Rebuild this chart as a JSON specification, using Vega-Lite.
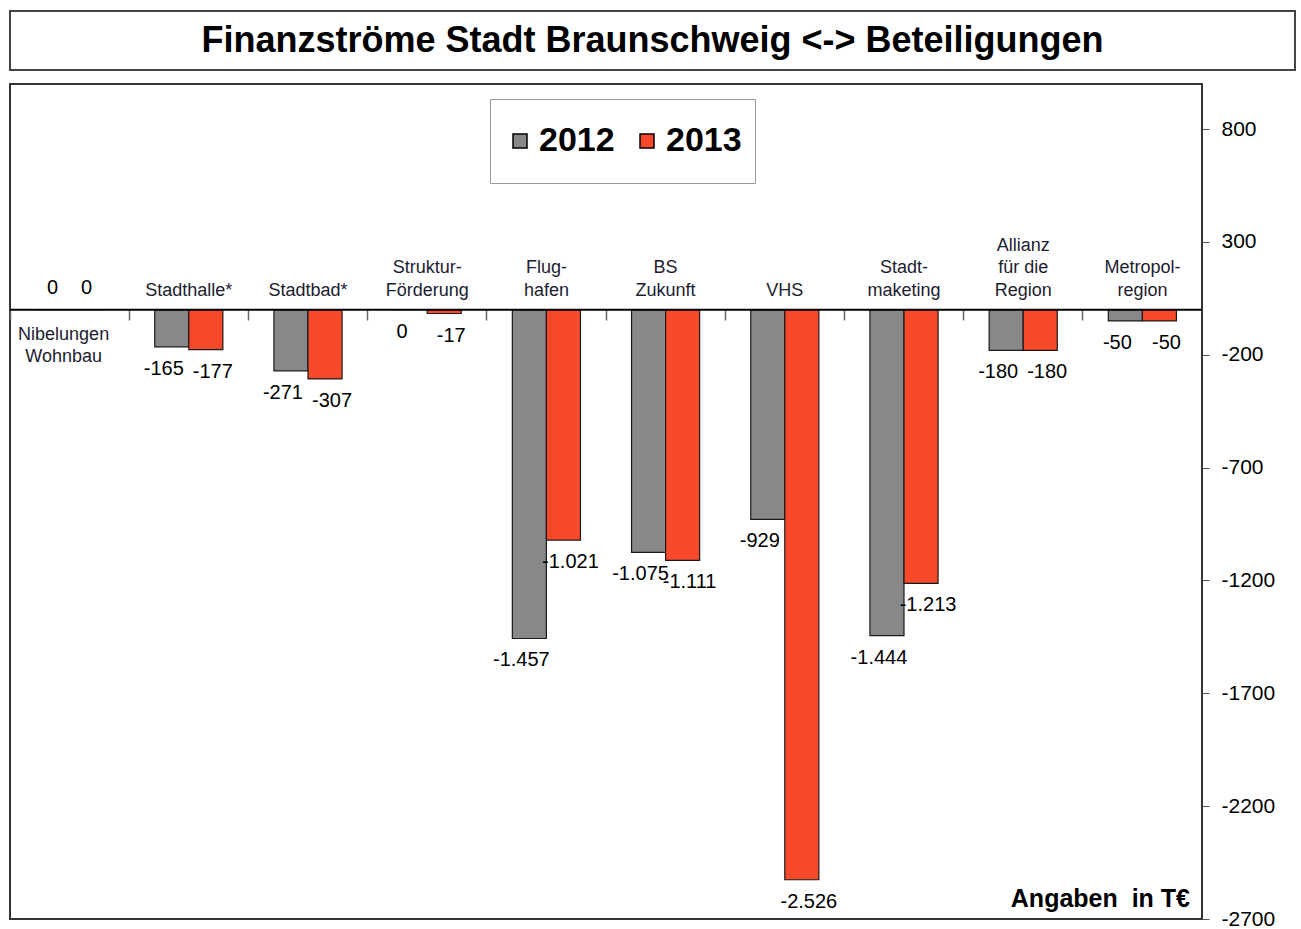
{
  "$schema": "https://vega.github.io/schema/vega-lite/v6.json",
  "padding": {"left": 8, "top": 10, "right": 0, "bottom": 0},
  "spacing": 12,
  "config": {
    "font": "Liberation Sans",
    "view": {"stroke": "#333333", "strokeWidth": 2},
    "locale": {"number": {"decimal": ",", "thousands": ".", "grouping": [3], "currency": ["", "€"], "minus": "-"}}
  },
  "datasets": {
    "bars": [
      {"category": "Nibelungen Wohnbau", "year": "2012", "value": 0},
      {"category": "Nibelungen Wohnbau", "year": "2013", "value": 0},
      {"category": "Stadthalle", "year": "2012", "value": -165},
      {"category": "Stadthalle", "year": "2013", "value": -177},
      {"category": "Stadtbad", "year": "2012", "value": -271},
      {"category": "Stadtbad", "year": "2013", "value": -307},
      {"category": "Struktur-Förderung", "year": "2012", "value": 0},
      {"category": "Struktur-Förderung", "year": "2013", "value": -17},
      {"category": "Flughafen", "year": "2012", "value": -1457},
      {"category": "Flughafen", "year": "2013", "value": -1021},
      {"category": "BS Zukunft", "year": "2012", "value": -1075},
      {"category": "BS Zukunft", "year": "2013", "value": -1111},
      {"category": "VHS", "year": "2012", "value": -929},
      {"category": "VHS", "year": "2013", "value": -2526},
      {"category": "Stadtmaketing", "year": "2012", "value": -1444},
      {"category": "Stadtmaketing", "year": "2013", "value": -1213},
      {"category": "Allianz für die Region", "year": "2012", "value": -180},
      {"category": "Allianz für die Region", "year": "2013", "value": -180},
      {"category": "Metropolregion", "year": "2012", "value": -50},
      {"category": "Metropolregion", "year": "2013", "value": -50}
    ],
    "cats": [
      {"category": "Nibelungen Wohnbau", "label": "Nibelungen|Wohnbau", "lines": 2},
      {"category": "Stadthalle", "label": "Stadthalle*", "lines": 1},
      {"category": "Stadtbad", "label": "Stadtbad*", "lines": 1},
      {"category": "Struktur-Förderung", "label": "Struktur-|Förderung", "lines": 2},
      {"category": "Flughafen", "label": "Flug-|hafen", "lines": 2},
      {"category": "BS Zukunft", "label": "BS|Zukunft", "lines": 2},
      {"category": "VHS", "label": "VHS", "lines": 1},
      {"category": "Stadtmaketing", "label": "Stadt-|maketing", "lines": 2},
      {"category": "Allianz für die Region", "label": "Allianz|für die|Region", "lines": 3},
      {"category": "Metropolregion", "label": "Metropol-|region", "lines": 2}
    ]
  },
  "vconcat": [
    {
      "width": 1285,
      "height": 59,
      "view": {"stroke": "#444444", "strokeWidth": 2},
      "data": {"values": [{"t": "Finanzströme Stadt Braunschweig <-> Beteiligungen", "px": 0.5, "py": 0.5}]},
      "mark": {"type": "text", "fontSize": 36, "fontWeight": "bold", "color": "#000000", "align": "center", "baseline": "middle"},
      "encoding": {
        "x": {"field": "px", "type": "quantitative", "scale": {"domain": [0, 1]}, "axis": null},
        "y": {"field": "py", "type": "quantitative", "scale": {"domain": [0, 1]}, "axis": null},
        "text": {"field": "t"}
      }
    },
    {
      "width": 1192,
      "height": 835,
      "layer": [
        {
          "data": {"name": "bars"},
          "mark": {"type": "bar", "stroke": "#1a1a1a", "strokeWidth": 1.2},
          "encoding": {
            "x": {
              "field": "category", "type": "nominal", "sort": null,
              "scale": {"domain": ["Nibelungen Wohnbau", "Stadthalle", "Stadtbad", "Struktur-Förderung", "Flughafen", "BS Zukunft", "VHS", "Stadtmaketing", "Allianz für die Region", "Metropolregion"], "paddingInner": 0, "paddingOuter": 0},
              "axis": {"title": null, "labels": false, "domain": false, "grid": false, "ticks": true, "tickSize": 10, "tickColor": "#666666", "tickWidth": 1.5, "bandPosition": 0, "offset": -609}
            },
            "xOffset": {"field": "year", "type": "nominal", "scale": {"paddingOuter": 0.75, "paddingInner": 0}},
            "y": {
              "field": "value", "type": "quantitative",
              "scale": {"domain": [-2700, 1000], "nice": false, "zero": false},
              "axis": {"orient": "right", "title": null, "values": [800, 300, -200, -700, -1200, -1700, -2200, -2700], "format": "d", "tickSize": 7, "tickColor": "#555555", "labelFontSize": 21, "labelColor": "#000000", "labelPadding": 12, "domain": false, "grid": false}
            },
            "y2": {"datum": 0},
            "color": {
              "field": "year", "type": "nominal",
              "scale": {"domain": ["2012", "2013"], "range": ["#888888", "#f84a2a"]},
              "legend": {
                "title": null, "orient": "none", "legendX": 480, "legendY": 88, "direction": "horizontal",
                "fillColor": "#ffffff", "strokeColor": "#999999", "padding": 13, "clipHeight": 58,
                "symbolType": "square", "symbolSize": 196, "symbolStrokeColor": "#000000", "symbolStrokeWidth": 1.5,
                "labelFontSize": 34, "labelFontWeight": "bold", "labelColor": "#000000", "labelOffset": 2, "columnPadding": 15
              }
            }
          }
        },
        {
          "data": {"values": [{}]},
          "mark": {"type": "rule", "color": "#000000", "strokeWidth": 2},
          "encoding": {"y": {"datum": 0}}
        },
        {
          "data": {"name": "bars"},
          "transform": [{"filter": "datum.category !== 'Nibelungen Wohnbau' && datum.year === '2012'"}],
          "mark": {"type": "text", "fontSize": 20, "color": "#000000", "baseline": "top", "dy": 12, "dx": -8},
          "encoding": {
            "x": {"field": "category", "type": "nominal", "sort": null, "title": null},
            "xOffset": {"field": "year", "type": "nominal"},
            "y": {"field": "value", "type": "quantitative", "title": null},
            "text": {"field": "value", "type": "quantitative", "format": ",d"}
          }
        },
        {
          "data": {"name": "bars"},
          "transform": [{"filter": "datum.category !== 'Nibelungen Wohnbau' && datum.year === '2013'"}],
          "mark": {"type": "text", "fontSize": 20, "color": "#000000", "baseline": "top", "dy": 12, "dx": 7},
          "encoding": {
            "x": {"field": "category", "type": "nominal", "sort": null, "title": null},
            "xOffset": {"field": "year", "type": "nominal"},
            "y": {"field": "value", "type": "quantitative", "title": null},
            "text": {"field": "value", "type": "quantitative", "format": ",d"}
          }
        },
        {
          "data": {"name": "bars"},
          "transform": [{"filter": "datum.category === 'Nibelungen Wohnbau'"}],
          "mark": {"type": "text", "fontSize": 20, "color": "#000000", "baseline": "bottom", "dy": -12},
          "encoding": {
            "x": {"field": "category", "type": "nominal", "sort": null, "title": null},
            "xOffset": {"field": "year", "type": "nominal"},
            "y": {"field": "value", "type": "quantitative", "title": null},
            "text": {"field": "value", "type": "quantitative", "format": ",d"}
          }
        },
        {
          "data": {"name": "cats"},
          "transform": [{"filter": "datum.category !== 'Nibelungen Wohnbau' && datum.lines === 1"}],
          "mark": {"type": "text", "fontSize": 18, "color": "#1c1c30", "baseline": "bottom", "dy": -10, "lineBreak": "|", "lineHeight": 22.5},
          "encoding": {
            "x": {"field": "category", "type": "nominal", "sort": null, "title": null},
            "y": {"datum": 0},
            "text": {"field": "label"}
          }
        },
        {
          "data": {"name": "cats"},
          "transform": [{"filter": "datum.category !== 'Nibelungen Wohnbau' && datum.lines === 2"}],
          "mark": {"type": "text", "fontSize": 18, "color": "#1c1c30", "baseline": "bottom", "dy": -32.5, "lineBreak": "|", "lineHeight": 22.5},
          "encoding": {
            "x": {"field": "category", "type": "nominal", "sort": null, "title": null},
            "y": {"datum": 0},
            "text": {"field": "label"}
          }
        },
        {
          "data": {"name": "cats"},
          "transform": [{"filter": "datum.category !== 'Nibelungen Wohnbau' && datum.lines === 3"}],
          "mark": {"type": "text", "fontSize": 18, "color": "#1c1c30", "baseline": "bottom", "dy": -55, "lineBreak": "|", "lineHeight": 22.5},
          "encoding": {
            "x": {"field": "category", "type": "nominal", "sort": null, "title": null},
            "y": {"datum": 0},
            "text": {"field": "label"}
          }
        },
        {
          "data": {"name": "cats"},
          "transform": [{"filter": "datum.category === 'Nibelungen Wohnbau'"}],
          "mark": {"type": "text", "fontSize": 18, "color": "#1c1c30", "baseline": "top", "dy": 16, "dx": -6, "lineBreak": "|", "lineHeight": 22.5},
          "encoding": {
            "x": {"field": "category", "type": "nominal", "sort": null, "title": null},
            "y": {"datum": 0},
            "text": {"field": "label"}
          }
        },
        {
          "data": {"values": [{"t": "Angaben\u00a0 in T€"}]},
          "mark": {"type": "text", "fontSize": 25, "fontWeight": "bold", "color": "#000000", "align": "right", "baseline": "alphabetic", "dx": -12, "dy": -12},
          "encoding": {
            "x": {"datum": "Metropolregion", "bandPosition": 1},
            "y": {"datum": -2700},
            "text": {"field": "t"}
          }
        }
      ]
    }
  ]
}
